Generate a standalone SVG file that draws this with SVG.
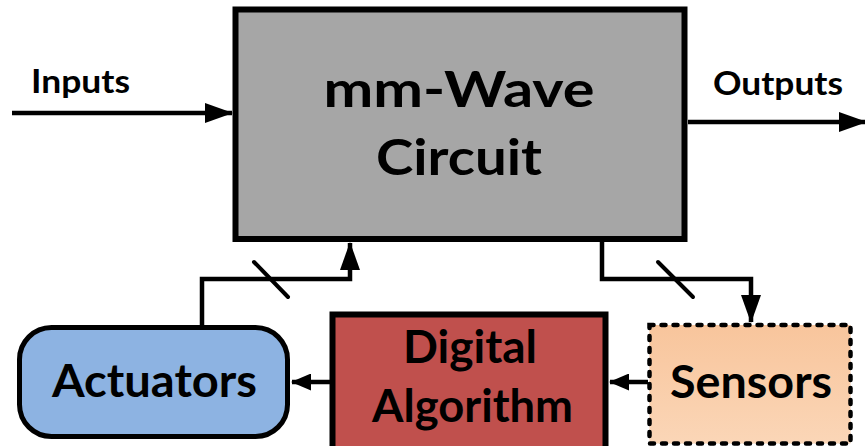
<svg xmlns="http://www.w3.org/2000/svg" width="865" height="446" viewBox="0 0 865 446">
  <defs>
    <style>
      .lbl { font-family: Lato, "Open Sans", "Liberation Sans", sans-serif; font-weight: bold; fill: #000; }
      .big { font-size: 45px; text-anchor: middle; }
      .huge { font-size: 50px; text-anchor: middle; }
      .small { font-size: 32px; }
      .box { stroke: #000; stroke-width: 6; }
      .wire { fill: none; stroke: #000; stroke-width: 4.5; stroke-linejoin: miter; }
      .slash { stroke: #000; stroke-width: 4; stroke-linecap: round; }
    </style>
    <linearGradient id="sensGrad" x1="0" y1="0" x2="0" y2="1">
      <stop offset="0" stop-color="#F8C59C"/>
      <stop offset="1" stop-color="#FBD6B7"/>
    </linearGradient>
    <marker id="arrow" markerUnits="userSpaceOnUse" markerWidth="28" markerHeight="20" refX="27" refY="10" orient="auto" viewBox="0 0 28 20">
      <path d="M0,0 L28,10 L0,20 Z" fill="#000"/>
    </marker>
    <marker id="arrowSm" markerUnits="userSpaceOnUse" markerWidth="20" markerHeight="17" refX="19" refY="8.5" orient="auto" viewBox="0 0 20 17">
      <path d="M0,0 L20,8.5 L0,17 Z" fill="#000"/>
    </marker>
  </defs>

  <g id="connectors">
    <path class="wire" d="M12,113 H232" marker-end="url(#arrow)"/>
    <path class="wire" d="M688,122 H866" marker-end="url(#arrow)"/>
    <path class="wire" d="M202,326 V279 H350 V243" marker-end="url(#arrow)"/>
    <path class="wire" d="M602,242 V279 H751 V322" marker-end="url(#arrow)"/>
    <path class="wire" d="M330,382 H292" marker-end="url(#arrowSm)"/>
    <path class="wire" d="M648,382 H610" marker-end="url(#arrowSm)"/>
    <line class="slash" x1="254" y1="262" x2="288" y2="297"/>
    <line class="slash" x1="658" y1="262" x2="693" y2="297"/>
  </g>

  <g id="label-inputs">
    <text class="lbl small" x="31" y="93" textLength="99" lengthAdjust="spacingAndGlyphs">Inputs</text>
  </g>
  <g id="label-outputs">
    <text class="lbl small" x="713" y="95" textLength="130" lengthAdjust="spacingAndGlyphs">Outputs</text>
  </g>

  <g id="mmwave-circuit">
    <rect class="box" x="235.5" y="9.5" width="449" height="229.5" fill="#A6A6A6"/>
    <text class="lbl huge" x="459" y="107" textLength="271" lengthAdjust="spacingAndGlyphs">mm-Wave</text>
    <text class="lbl huge" x="459" y="175" textLength="166" lengthAdjust="spacingAndGlyphs">Circuit</text>
  </g>

  <g id="actuators">
    <rect class="box" x="19.5" y="327.5" width="268" height="109" rx="32" ry="32" fill="#8DB3E2" style="stroke-width:5"/>
    <text class="lbl big" x="154.5" y="397" textLength="205" lengthAdjust="spacingAndGlyphs">Actuators</text>
  </g>

  <g id="digital-algorithm">
    <rect class="box" x="332.5" y="314.5" width="273" height="135" fill="#C0504D"/>
    <text class="lbl big" x="470" y="363" textLength="134" lengthAdjust="spacingAndGlyphs">Digital</text>
    <text class="lbl big" x="472.5" y="422" textLength="201" lengthAdjust="spacingAndGlyphs">Algorithm</text>
  </g>

  <g id="sensors">
    <rect x="649.5" y="325" width="201" height="118.5" fill="url(#sensGrad)" stroke="#000" stroke-width="4.5" stroke-dasharray="4 8" stroke-linecap="round"/>
    <text class="lbl big" x="751" y="398" textLength="162" lengthAdjust="spacingAndGlyphs">Sensors</text>
  </g>
</svg>
